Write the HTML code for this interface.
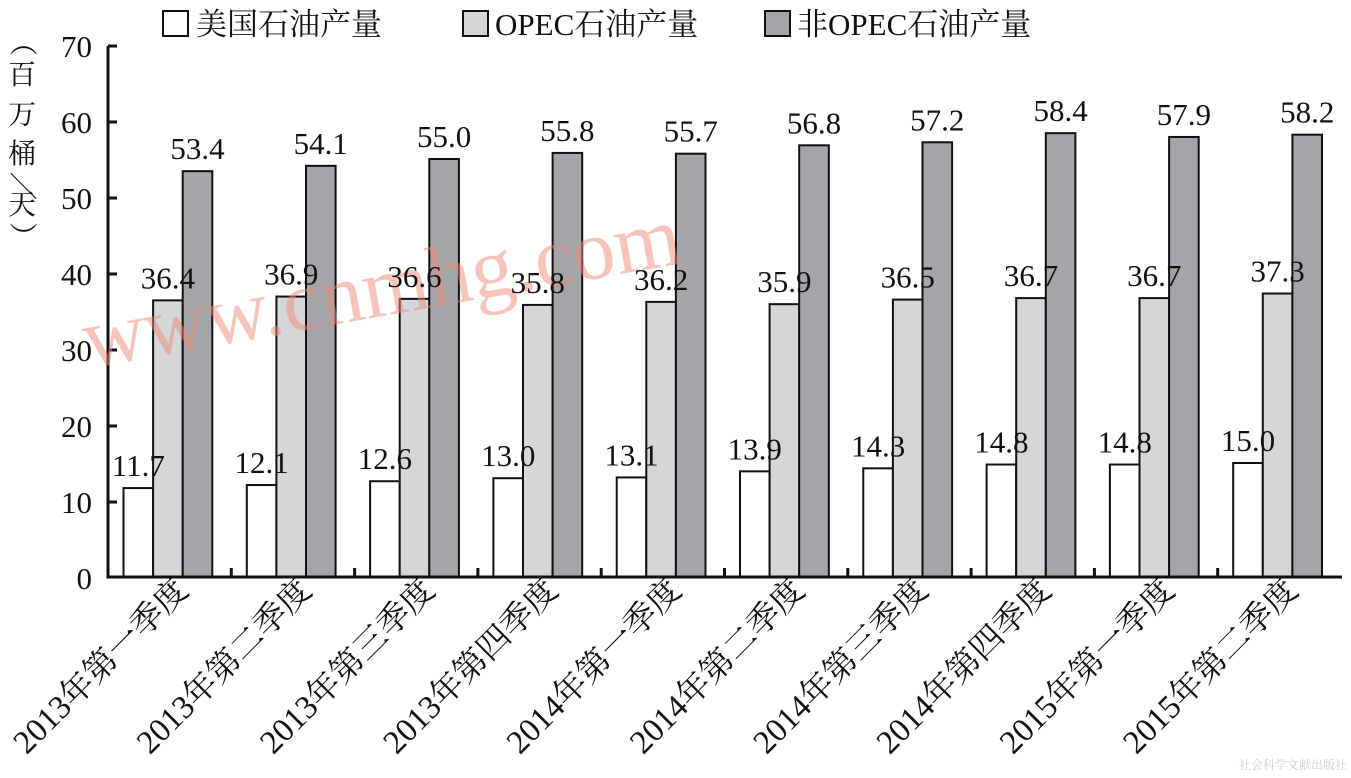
<!DOCTYPE html>
<html><head><meta charset="utf-8"><style>
body{margin:0;background:#fff}
svg text{font-family:"Liberation Serif","Noto Serif CJK SC",serif;fill:#111}
</style></head><body>
<svg width="1351" height="773" viewBox="0 0 1351 773" xmlns="http://www.w3.org/2000/svg">
<g font-size="31">
<rect x="163" y="11" width="25" height="25" fill="#fff" stroke="#111" stroke-width="2"/>
<text x="196" y="35">美国石油产量</text>
<rect x="463" y="11" width="25" height="25" fill="#d4d6d8" stroke="#111" stroke-width="2"/>
<text x="495" y="35">OPEC石油产量</text>
<rect x="765" y="11" width="25" height="25" fill="#a3a5a8" stroke="#111" stroke-width="2"/>
<text x="797" y="35">非OPEC石油产量</text>
</g>
<g font-size="28" text-anchor="middle">
<text transform="translate(22,42) rotate(90)" x="0" y="9">（</text>
<text x="22" y="84">百</text>
<text x="22" y="124">万</text>
<text x="22" y="163">桶</text>
<text transform="translate(22,186) rotate(90)" x="0" y="9">／</text>
<text x="22" y="214">天</text>
<text transform="translate(22,236) rotate(90)" x="0" y="9">）</text>
</g>
<g font-size="31" text-anchor="end">
<text x="92" y="57">70</text><text x="92" y="133">60</text><text x="92" y="209">50</text>
<text x="92" y="285">40</text><text x="92" y="361">30</text><text x="92" y="437">20</text>
<text x="92" y="513">10</text><text x="92" y="589">0</text>
</g>
<g id="bars"></g>
<path d="M108 46 V577 H1342" fill="none" stroke="#111" stroke-width="3"/>
<g stroke="#111" stroke-width="3">
<line x1="108" y1="46" x2="117" y2="46"/><line x1="108" y1="122" x2="117" y2="122"/>
<line x1="108" y1="198" x2="117" y2="198"/><line x1="108" y1="274" x2="117" y2="274"/>
<line x1="108" y1="350" x2="117" y2="350"/><line x1="108" y1="426" x2="117" y2="426"/>
<line x1="108" y1="502" x2="117" y2="502"/>
</g>
<text x="88" y="368" font-size="86" transform="rotate(-10 88 368)" style="fill:#ef8a7a;opacity:0.5" font-family="Liberation Sans">www.cnmhg.com</text>
<g id="labels"></g>
<text x="1347" y="769" font-size="12" text-anchor="end" style="fill:#ccc">社会科学文献出版社</text>
<script>
var us=[11.7,12.1,12.6,13.0,13.1,13.9,14.3,14.8,14.8,15.0];
var op=[36.4,36.9,36.6,35.8,36.2,35.9,36.5,36.7,36.7,37.3];
var no=[53.4,54.1,55.0,55.8,55.7,56.8,57.2,58.4,57.9,58.2];
var lab=["2013年第一季度","2013年第二季度","2013年第三季度","2013年第四季度","2014年第一季度","2014年第二季度","2014年第三季度","2014年第四季度","2015年第一季度","2015年第二季度"];
var ns="http://www.w3.org/2000/svg",b=document.getElementById("bars"),l=document.getElementById("labels");
function el(p,t,a,txt){var e=document.createElementNS(ns,t);for(var k in a)e.setAttribute(k,a[k]);if(txt)e.textContent=txt;p.appendChild(e);return e;}
function Y(v){return 577-v*7.6;}
var cols=["#fff","#d4d6d8","#a3a5a8"];
for(var i=0;i<10;i++){
 var g0=108+123.3*i,x0=g0+15.5;
 [us[i],op[i],no[i]].forEach(function(v,j){
  var x=x0+j*29.6;
  el(b,"rect",{x:x,y:Y(v),width:29.6,height:577-Y(v),fill:cols[j],stroke:"#111","stroke-width":2});
  el(l,"text",{x:x+14.8,y:Y(v)-12,"font-size":31,"text-anchor":"middle"},v.toFixed(1));
 });
 if(i>0)el(b,"line",{x1:g0,y1:577,x2:g0,y2:568,stroke:"#111","stroke-width":3});
 var cx=g0+82,cy=592;
 el(l,"text",{x:cx,y:cy,"font-size":33,"text-anchor":"end",transform:"rotate(-45 "+cx+" "+cy+")"},lab[i]);
}
</script>
</svg>
</body></html>
